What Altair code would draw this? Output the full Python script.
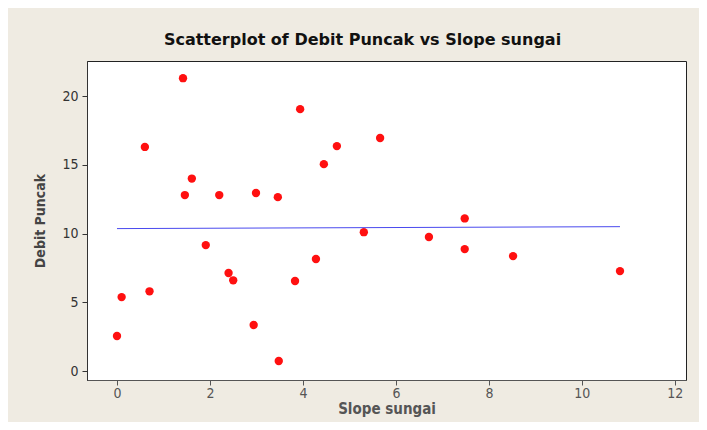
import altair as alt
import pandas as pd

slope_sungai = [0.0, 0.1, 0.7, 0.6, 1.42, 1.46, 1.61, 1.91, 2.2, 2.4, 2.5, 2.99, 2.94, 3.46,
                3.48, 3.83, 3.94, 4.28, 4.45, 4.73, 5.31, 5.66, 6.71, 7.48, 7.48, 8.52, 10.82]
debit_puncak = [2.55, 5.38, 5.8, 16.3, 21.3, 12.8, 14.0, 9.16, 12.8, 7.13, 6.6, 12.95, 3.35, 12.65,
                0.73, 6.55, 19.05, 8.15, 15.05, 16.36, 10.1, 16.95, 9.75, 11.1, 8.87, 8.36, 7.27]

x_ticks = [0, 2, 4, 6, 8, 10, 12]
y_ticks = [0, 5, 10, 15, 20]

df = pd.DataFrame({"Slope sungai": slope_sungai, "Debit Puncak": debit_puncak})

FONT = "DejaVu Sans Condensed"

xscale = alt.Scale(domain=[-0.645, 12.24], nice=False, zero=False)
yscale = alt.Scale(domain=[-0.65, 22.55], nice=False, zero=False)

xaxis = alt.Axis(values=x_ticks, title="Slope sungai", grid=False, tickSize=5,
                 labelFont=FONT, labelFontSize=14, labelColor="#555555",
                 titleFont=FONT, titleFontSize=15, titleFontWeight="bold", titleColor="#555555",
                 titlePadding=1, domainColor="#555555", tickColor="#555555", labelPadding=1)
yaxis = alt.Axis(values=y_ticks, title="Debit Puncak", grid=False, tickSize=5,
                 labelFont=FONT, labelFontSize=14, labelColor="#333333",
                 titleFont=FONT, titleFontSize=14, titleFontWeight="bold", titleColor="#444444",
                 titlePadding=14, domainColor="#333333", tickColor="#333333", labelPadding=4)

base = alt.Chart(df)

points = base.mark_circle(size=70, opacity=1, color="#ff1010").encode(
    x=alt.X("Slope sungai:Q", scale=xscale, axis=xaxis),
    y=alt.Y("Debit Puncak:Q", scale=yscale, axis=yaxis),
)

fit = base.transform_regression("Slope sungai", "Debit Puncak", method="linear").mark_line(
    color="#4a4aee", strokeWidth=1
).encode(
    x=alt.X("Slope sungai:Q", scale=xscale),
    y=alt.Y("Debit Puncak:Q", scale=yscale),
)

chart = (points + fit).properties(
    width=599,
    height=319,
    padding={"left": 79, "top": 53, "right": 13, "bottom": 42},
    autosize=alt.AutoSizeParams(type="none"),
    background="#efebe2",
    title=alt.TitleParams(
        "Scatterplot of Debit Puncak vs Slope sungai",
        font="DejaVu Sans", fontSize=16, fontWeight="bold", color="#111111",
        anchor="middle", dx=-24, offset=13,
    ),
).configure_view(fill="white", stroke="#222222", strokeWidth=1)

chart.save("out.html", embed_options={"renderer": "svg", "actions": False})
